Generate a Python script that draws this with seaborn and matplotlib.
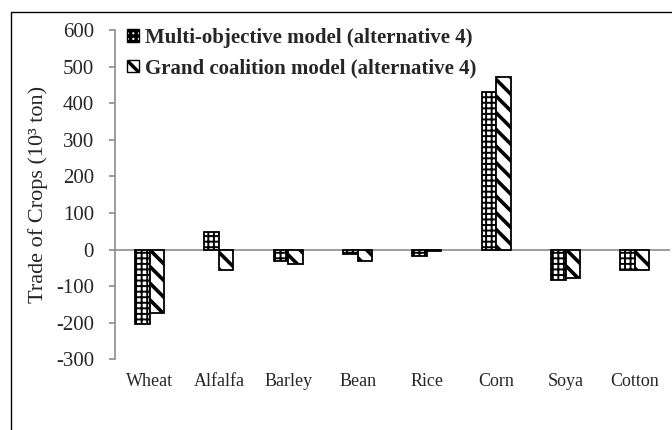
import pandas as pd
import matplotlib
matplotlib.use("Agg")
import matplotlib.pyplot as plt
import matplotlib.patches as mpatches
import seaborn as sns

# --- Data ---
crops = ["Wheat", "Alfalfa", "Barley", "Bean", "Rice", "Corn", "Soya", "Cotton"]
multi_objective = [-203, 47, -31, -11, -18, 430, -84, -55]
grand_coalition = [-173, -55, -40, -32, -4, 473, -77, -55]
series_names = ["Multi-objective model (alternative 4)",
                "Grand coalition model (alternative 4)"]
y_ticks = list(range(-300, 601, 100))

df = pd.DataFrame({
    "Crop": crops * 2,
    "Trade": multi_objective + grand_coalition,
    "Model": [series_names[0]] * len(crops) + [series_names[1]] * len(crops),
})

# --- Styling ---
sns.set_theme(style="white")
plt.rcParams["font.family"] = ["Liberation Serif", "DejaVu Serif"]
plt.rcParams["hatch.linewidth"] = 2.5

fig = plt.figure(figsize=(6.72, 4.3), dpi=100)
ax = fig.add_axes([0.171, 0.1644, 0.8254, 0.7656])

sns.barplot(data=df, x="Crop", y="Trade", hue="Model", order=crops,
            hue_order=series_names, width=0.42, gap=0,
            palette=["white", "white"], edgecolor="black", linewidth=1.3,
            legend=False, ax=ax)

# checkerboard-like grid for the first model, thick back-diagonals for the second
hatches = ["+++", "\\\\"]
hatch_lw = [1.4, 2.6]


def style_patch(p, h, lw):
    p.set_hatch(h)
    p.set_edgecolor("black")
    if hasattr(p, "set_hatch_linewidth"):
        p.set_hatch_linewidth(lw)


for cont, h, lw in zip(ax.containers, hatches, hatch_lw):
    for bar in cont:
        style_patch(bar, h, lw)

# zero line / axes
ax.axhline(0, color="#8c8c8c", linewidth=1.2, zorder=0)
ax.set_ylim(-300, 600)
ax.set_xlim(-0.5, len(crops) - 0.5)
ax.set_yticks(y_ticks)
ax.set_yticklabels([str(v) for v in y_ticks], fontsize=15)
for s in ["top", "right", "bottom"]:
    ax.spines[s].set_visible(False)
ax.spines["left"].set_color("#8c8c8c")
ax.spines["left"].set_linewidth(1.2)
ax.tick_params(axis="y", left=True, length=4, width=1.2, color="#8c8c8c", pad=11)
ax.tick_params(axis="x", bottom=False, length=0, pad=10, labelsize=13)
ax.set_xlabel("")
ax.set_ylabel("Trade of Crops (10\u00b3 ton)", fontsize=16, labelpad=6)

handles = []
for h, n, lw in zip(hatches, series_names, hatch_lw):
    p = mpatches.Patch(facecolor="white", edgecolor="black", label=n)
    style_patch(p, h, lw)
    handles.append(p)
leg = ax.legend(handles=handles, loc="upper left", bbox_to_anchor=(0.0, 1.045),
                frameon=False, prop={"weight": "bold", "size": 15},
                handlelength=0.55, handleheight=0.55, handletextpad=0.3,
                labelspacing=0.5, borderaxespad=0.2)

# outer chart border (cut off at right and bottom)
top = 1 - 12 / 430
fig.patches.append(mpatches.Rectangle((11 / 672, -0.2), 1.2, top + 0.2,
                                      transform=fig.transFigure, fill=False,
                                      edgecolor="black", linewidth=1.0))

fig.savefig("out.png", dpi=100)
